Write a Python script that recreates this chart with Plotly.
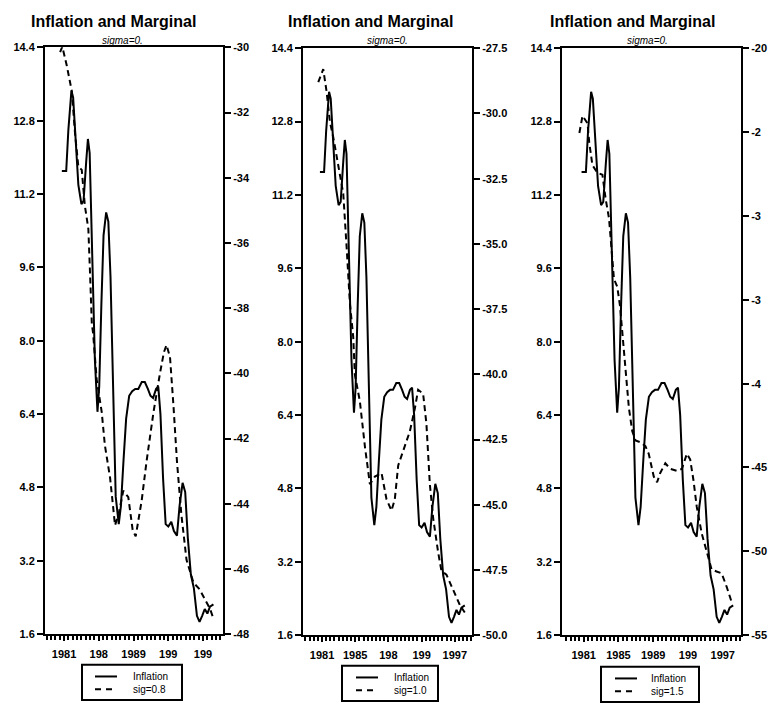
import plotly.graph_objects as go

# ---------------- data ----------------
infl_t = [1980.75, 1981.25, 1981.50, 1981.85, 1982.05, 1982.35, 1982.65, 1983.00, 1983.25,
          1983.55, 1983.75, 1983.95, 1984.25, 1984.55, 1984.85, 1985.05, 1985.30, 1985.55,
          1985.85, 1986.10, 1986.35, 1986.65, 1986.95, 1987.30, 1987.55, 1987.85, 1988.15,
          1988.50, 1988.85, 1989.20, 1989.55, 1989.95, 1990.30, 1990.65, 1990.95, 1991.25,
          1991.60, 1991.85, 1992.10, 1992.40, 1992.70, 1993.00, 1993.35, 1993.65, 1994.00,
          1994.30, 1994.65, 1994.95, 1995.25, 1995.60, 1995.95, 1996.30, 1996.60, 1996.90,
          1997.20, 1997.50, 1997.80, 1998.20]
inflation = [11.70, 11.70, 12.60, 13.45, 13.30, 12.20, 11.40, 10.98, 11.05,
             11.90, 12.40, 12.10, 9.60, 7.60, 6.45, 7.00, 8.80, 10.30,
             10.80, 10.60, 9.40, 6.60, 4.60, 4.00, 4.40, 5.40, 6.30,
             6.80, 6.90, 6.95, 6.95, 7.10, 7.10, 6.95, 6.80, 6.75,
             6.95, 7.00, 6.40, 5.00, 4.00, 3.95, 4.05, 3.85, 3.75,
             4.40, 4.90, 4.70, 3.70, 2.90, 2.60, 2.00, 1.87, 2.00,
             2.15, 2.05, 2.20, 2.25]

sig08_t = [1980.55, 1980.80, 1981.30, 1981.90, 1982.07, 1982.27, 1982.65, 1983.04, 1983.40,
           1983.80, 1984.00, 1984.20, 1984.35, 1984.76, 1985.34, 1985.70, 1986.30, 1986.87,
           1987.30, 1987.82, 1988.40, 1988.90, 1989.25, 1989.94, 1990.50, 1991.30, 1992.05,
           1992.50, 1992.80, 1993.20, 1993.60, 1994.00, 1994.50, 1995.10, 1995.90, 1996.60,
           1997.20, 1997.80, 1998.20]
sig08 = [-30.15, -29.98, -30.54, -31.35, -31.95, -32.65, -33.66, -33.76, -34.86,
         -35.57, -36.97, -38.48, -38.78, -40.19, -41.19, -42.20, -43.20, -44.66,
         -44.30, -43.60, -43.80, -44.80, -45.00, -43.90, -42.70, -41.19, -39.99,
         -39.35, -39.13, -39.50, -41.00, -42.70, -44.31, -45.72, -46.42, -46.62,
         -46.92, -47.22, -47.52]

sig10_t = [1980.55, 1981.15, 1981.55, 1981.95, 1982.35, 1982.76, 1983.16, 1983.56, 1983.96,
           1984.36, 1984.76, 1984.96, 1985.56, 1986.17, 1986.77, 1987.37, 1988.17, 1988.77,
           1989.37, 1989.77, 1990.18, 1990.78, 1991.58, 1992.18, 1992.58, 1993.18, 1993.58,
           1993.99, 1994.39, 1994.99, 1995.39, 1995.99, 1996.59, 1997.19, 1997.60, 1998.20]
sig10 = [-28.80, -28.30, -29.16, -30.32, -30.90, -31.62, -32.35, -33.07, -35.10,
         -37.27, -38.57, -40.02, -41.03, -42.77, -44.21, -43.92, -43.78, -44.79,
         -45.22, -44.79, -43.49, -42.91, -42.19, -41.32, -40.59, -40.74, -41.90,
         -44.21, -45.51, -46.82, -47.54, -47.68, -48.12, -48.55, -48.84, -49.13]

sig15_t = [1980.50, 1980.86, 1981.44, 1981.63, 1982.00, 1982.58, 1983.15, 1983.53, 1983.91,
           1984.10, 1984.48, 1984.86, 1985.17, 1985.44, 1985.82, 1986.20, 1986.58, 1986.96,
           1987.53, 1988.10, 1988.48, 1989.06, 1989.44, 1989.82, 1990.39, 1990.96, 1991.72,
           1992.30, 1992.87, 1993.25, 1993.63, 1994.01, 1994.58, 1995.15, 1995.72, 1996.29,
           1996.87, 1997.44, 1998.01]
sig15 = [-25.05, -24.03, -24.48, -25.60, -26.97, -27.43, -27.54, -29.01, -30.14,
         -31.50, -33.76, -34.22, -35.35, -36.93, -39.20, -41.46, -42.82, -43.39,
         -43.50, -43.73, -44.18, -45.54, -45.88, -45.31, -44.75, -45.08, -45.20,
         -45.08, -44.18, -44.52, -45.76, -47.35, -48.93, -50.07, -51.08, -51.20,
         -51.31, -52.10, -53.00]

left_ticks = [1.6, 3.2, 4.8, 6.4, 8.0, 9.6, 11.2, 12.8, 14.4]
left_labels = ["1.6", "3.2", "4.8", "6.4", "8.0", "9.6", "11.2", "12.8", "14.4"]

year_ticks = [1981, 1985, 1989, 1993, 1997]
year_labels = [
    ["1981", "198", "1989", "199", "199"],
    ["1981", "1985", "198", "199", "1997"],
    ["1981", "1985", "1989", "199", "1997"],
]

r1_ticks = [-30, -32, -34, -36, -38, -40, -42, -44, -46, -48]
r1_labels = ["-30", "-32", "-34", "-36", "-38", "-40", "-42", "-44", "-46", "-48"]
r2_ticks = [-27.5, -30.0, -32.5, -35.0, -37.5, -40.0, -42.5, -45.0, -47.5, -50.0]
r2_labels = ["-27.5", "-30.0", "-32.5", "-35.0", "-37.5", "-40.0", "-42.5", "-45.0", "-47.5", "-50.0"]
r3_ticks = [-20, -25, -30, -35, -40, -45, -50, -55]
r3_labels = ["-20", "-2", "-3", "-3", "-4", "-45", "-50", "-55"]

infl_name = "Inflation"
sig_names = ["sig=0.8", "sig=1.0", "sig=1.5"]
title_text = "Inflation and Marginal"
subtitle_text = "sigma=0."

# ---------------- layout geometry ----------------
W, H = 770, 710
panels = [
    dict(x0=45, x1=223, y0=42, y1=639, xr=[1978.81, 1999.3], rr=[-48, -30],
         rt=r1_ticks, rl=r1_labels, dash_t=sig08_t, dash_v=sig08,
         title_x=113, sub_x=122,
         box=(82, 670, 182, 706), samp=(95, 117), text_x=131, row=(682, 695)),
    dict(x0=303, x1=472, y0=43, y1=640, xr=[1978.71, 1999.07], rr=[-50, -27.5],
         rt=r2_ticks, rl=r2_labels, dash_t=sig10_t, dash_v=sig10,
         title_x=370, sub_x=387,
         box=(342, 671, 438, 707), samp=(356, 378), text_x=392, row=(683, 696)),
    dict(x0=562, x1=741, y0=43, y1=640, xr=[1978.5, 1999.1], rr=[-55, -20],
         rt=r3_ticks, rl=r3_labels, dash_t=sig15_t, dash_v=sig15,
         title_x=632, sub_x=647,
         box=(601, 672, 699, 708), samp=(615, 637), text_x=649, row=(684, 697)),
]

FONT = "Liberation Sans, Arial, sans-serif"
TICKFONT = dict(family=FONT, size=11, color="black", weight="bold")
minor_vals = [1979 + 0.5 * k for k in range(41)]

def px(x):
    return x / W

def py(y):
    return 1 - y / H

fig = go.Figure()
layout = dict(
    width=W, height=H, margin=dict(l=0, r=0, t=0, b=0),
    paper_bgcolor="white", plot_bgcolor="white", showlegend=False,
    font=dict(family=FONT, size=11, color="black"),
    annotations=[], shapes=[],
)

for i, p in enumerate(panels):
    n = i + 1
    xa = "x" if n == 1 else f"x{n}"
    yl = 2 * n - 1
    yr = 2 * n
    yl_name = "y" if yl == 1 else f"y{yl}"
    yr_name = f"y{yr}"

    fig.add_trace(go.Scatter(
        x=infl_t, y=inflation, mode="lines", name=infl_name,
        line=dict(color="black", width=2), xaxis=xa, yaxis=yl_name))
    fig.add_trace(go.Scatter(
        x=p["dash_t"], y=p["dash_v"], mode="lines", name=sig_names[i],
        line=dict(color="black", width=2, dash="6px,4px"), xaxis=xa, yaxis=yr_name))

    xdom = [px(p["x0"]), px(p["x1"])]
    ydom = [py(p["y1"]), py(p["y0"])]
    xkey = "xaxis" if n == 1 else f"xaxis{n}"
    layout[xkey] = dict(
        domain=xdom, range=p["xr"], anchor=yl_name,
        tickmode="array", tickvals=year_ticks, ticktext=year_labels[i],
        ticks="outside", ticklen=5, tickwidth=1.5, tickcolor="black",
        ticklabelstandoff=4,
        minor=dict(tickmode="array", tickvals=minor_vals, ticks="outside",
                   ticklen=4, tickwidth=1.5, tickcolor="black"),
        showline=True, linewidth=2, linecolor="black", mirror=True,
        showgrid=False, zeroline=False, tickfont=TICKFONT,
    )
    ylkey = "yaxis" if yl == 1 else f"yaxis{yl}"
    layout[ylkey] = dict(
        domain=ydom, range=[1.6, 14.4], anchor=xa,
        tickmode="array", tickvals=left_ticks, ticktext=left_labels,
        ticks="outside", ticklen=6, tickwidth=1.5, tickcolor="black",
        showline=True, linewidth=2, linecolor="black",
        showgrid=False, zeroline=False, tickfont=TICKFONT,
    )
    layout[f"yaxis{yr}"] = dict(
        range=p["rr"], overlaying=yl_name, side="right", anchor=xa,
        tickmode="array", tickvals=p["rt"], ticktext=p["rl"],
        ticks="outside", ticklen=6, tickwidth=1.5, tickcolor="black",
        showline=True, linewidth=2, linecolor="black",
        showgrid=False, zeroline=False, tickfont=TICKFONT,
    )

    # titles
    layout["annotations"].append(dict(
        text=f"<b>{title_text}</b>", x=px(p["title_x"]), y=py(16),
        xref="paper", yref="paper", showarrow=False, xanchor="center", yanchor="middle",
        font=dict(family=FONT, size=16, color="black")))
    layout["annotations"].append(dict(
        text=f"<i>{subtitle_text}</i>", x=px(p["sub_x"]), y=py(35),
        xref="paper", yref="paper", showarrow=False, xanchor="center", yanchor="middle",
        font=dict(family=FONT, size=10, color="black")))

    # legend box (drawn in paper coordinates)
    bx0, by0, bx1, by1 = p["box"]
    layout["shapes"].append(dict(
        type="rect", xref="paper", yref="paper",
        x0=px(bx0), x1=px(bx1), y0=py(by1), y1=py(by0),
        line=dict(color="black", width=2), fillcolor="white"))
    s0, s1 = p["samp"]
    r0, r1 = p["row"]
    layout["shapes"].append(dict(
        type="line", xref="paper", yref="paper",
        x0=px(s0), x1=px(s1), y0=py(r0), y1=py(r0),
        line=dict(color="black", width=2)))
    layout["shapes"].append(dict(
        type="line", xref="paper", yref="paper",
        x0=px(s0), x1=px(s1), y0=py(r1), y1=py(r1),
        line=dict(color="black", width=2, dash="6px,5px")))
    layout["annotations"].append(dict(
        text=infl_name, x=px(p["text_x"]), y=py(r0),
        xref="paper", yref="paper", showarrow=False, xanchor="left", yanchor="middle",
        font=dict(family=FONT, size=10, color="black")))
    layout["annotations"].append(dict(
        text=sig_names[i], x=px(p["text_x"]), y=py(r1),
        xref="paper", yref="paper", showarrow=False, xanchor="left", yanchor="middle",
        font=dict(family=FONT, size=10, color="black")))

fig.update_layout(**layout)
fig.write_html("out.html")
